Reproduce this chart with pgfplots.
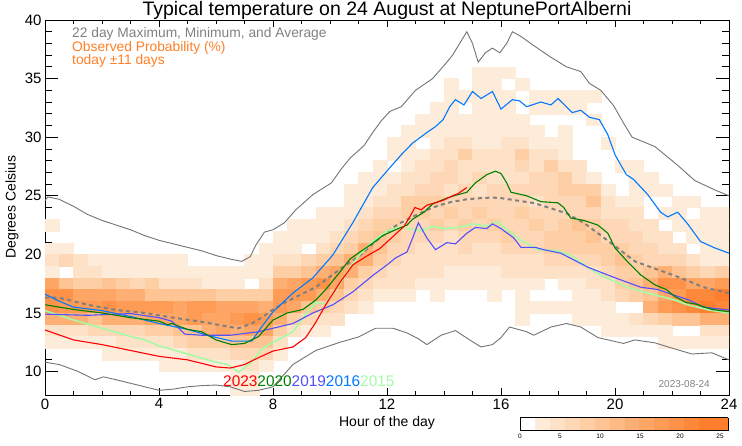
\documentclass[border=0pt]{standalone}
\usepackage{pgfplots}
\pgfplotsset{compat=1.18}
\usepackage{pgfplotstable}
\usepackage{fontspec}
\setmainfont{Liberation Sans}
\definecolor{gline}{RGB}{115,115,115}
\definecolor{lgray}{RGB}{128,128,128}
\definecolor{orangetxt}{RGB}{255,127,39}
\definecolor{c2023}{RGB}{255,0,0}
\definecolor{c2020}{RGB}{0,128,0}
\definecolor{c2019}{RGB}{80,80,255}
\definecolor{c2016}{RGB}{0,120,255}
\definecolor{c2015}{RGB}{165,250,165}

\pgfplotstableread{
y h0 h1 h2 h3 h4 h5 h6 h7 h8 h9 h10 h11 h12 h13 h14 h15 h16 h17 h18 h19 h20 h21 h22 h23 h24 h25 h26 h27 h28 h29 h30 h31 h32 h33 h34 h35 h36 h37 h38 h39 h40 h41 h42 h43 h44 h45 h46 h47
35 0 0 0 0 0 0 0 0  0 0 0 0 0 0 0 0  0 0 0 0 0 0 0 0  0 0 0 0 0 0 3 3  3 0 0 0 0 0 0 0  0 0 0 0 0 0 0 0
34 0 0 0 0 0 0 0 0  0 0 0 0 0 0 0 0  0 0 0 0 0 0 0 0  0 0 0 0 3 0 3 3  0 3 0 0 0 0 0 0  0 0 0 0 0 0 0 0
33 0 0 0 0 0 0 0 0  0 0 0 0 0 0 0 0  0 0 0 0 0 0 0 0  0 0 0 0 3 3 3 3  3 0 3 3 3 3 3 0  0 0 0 0 0 0 0 0
32 0 0 0 0 0 0 0 0  0 0 0 0 0 0 0 0  0 0 0 0 0 0 0 0  0 0 0 3 3 0 3 3  3 0 3 3 3 3 0 0  0 0 0 0 0 0 0 0
31 0 0 0 0 0 0 0 0  0 0 0 0 0 0 0 0  0 0 0 0 0 0 0 0  0 0 3 3 3 3 3 3  3 3 0 0 0 0 3 0  0 0 0 0 0 0 0 0
30 0 0 0 0 0 0 0 0  0 0 0 0 0 0 0 0  0 0 0 0 0 0 0 0  0 3 3 3 3 3 3 3  3 3 3 0 3 0 0 0  0 0 0 0 0 0 0 0
29 0 0 0 0 0 0 0 0  0 0 0 0 0 0 0 0  0 0 0 0 0 0 0 0  3 3 0 3 5 5 3 3  5 5 3 3 3 0 0 3  0 0 0 0 0 0 0 0
28 0 0 0 0 0 0 0 0  0 0 0 0 0 0 0 0  0 0 0 0 0 0 0 0  3 3 3 5 5 9 5 5  5 9 5 5 3 0 0 0  0 0 0 0 0 0 0 0
27 0 0 0 0 0 0 0 0  0 0 0 0 0 0 0 0  0 0 0 0 0 0 0 3  0 3 5 5 7 5 5 5  5 7 5 9 5 5 0 0  3 3 0 0 0 0 0 0
26 0 0 0 0 0 0 0 0  0 0 0 0 0 0 0 0  0 0 0 0 0 0 3 3  3 5 5 7 7 5 7 5  5 5 7 7 9 5 3 0  0 3 3 0 0 0 0 0
25 0 0 0 0 0 0 0 0  0 0 0 0 0 0 0 0  0 0 0 0 0 3 3 3  5 5 7 7 5 7 5 7  7 7 7 7 9 9 9 3  0 3 3 3 0 0 0 0
24 0 0 0 0 0 0 0 0  0 0 0 0 0 0 0 0  0 0 0 0 0 3 3 5  5 9 9 9 7 7 7 7  7 7 5 7 7 7 11 5  3 3 0 0 3 3 0 0
23 0 0 0 0 0 0 0 0  0 0 0 0 0 0 0 0  0 0 0 3 3 3 5 7  7 9 9 7 9 7 9 7  7 9 7 7 7 7 7 5  5 5 0 3 3 0 3 3
22 3 0 0 0 0 0 0 0  0 0 0 0 0 0 0 0  0 3 3 3 3 5 7 9  9 7 7 9 7 9 7 9  7 7 9 7 9 11 9 7  7 5 5 0 3 3 3 3
21 0 0 0 0 0 0 0 0  0 0 0 0 0 0 0 0  3 3 3 3 5 7 9 11  9 7 7 7 5 7 7 7  9 7 7 9 9 9 11 7  7 7 5 5 0 3 3 3
20 3 3 0 0 0 0 0 0  0 0 0 0 0 0 0 3  3 3 0 5 7 9 13 11  7 7 5 5 5 7 5 5  7 7 7 9 9 9 9 9  9 7 7 5 5 0 3 3
19 5 7 5 3 3 3 3 3  3 3 0 0 0 0 3 3  5 5 7 9 11 13 13 9  7 5 5 5 5 5 5 5  5 5 5 7 7 7 7 9  11 9 7 7 7 5 3 3
18 3 0 5 5 3 3 3 3  3 3 3 3 3 3 3 3  9 9 11 13 15 13 9 7  5 5 5 5 3 3 3 3  5 5 5 5 5 5 5 7  9 9 11 13 11 9 7 9
17 15 11 9 9 11 9 7 9  5 5 5 3 3 3 0 5  13 15 17 19 15 9 7 5  5 5 3 3 3 3 3 3  3 3 3 0 3 3 5 5  9 11 13 19 19 15 15 17
16 19 19 15 15 15 13 13 11  11 11 11 11 9 9 9 9  17 17 17 13 11 7 5 3  3 3 0 3 0 0 0 3  0 3 0 0 0 3 3 5  7 9 11 15 17 21 21 23
15 19 17 17 17 19 17 17 17  17 15 17 17 15 15 15 13  17 15 11 9 7 5 3 0  0 0 0 0 0 0 0 0  0 3 3 3 3 3 3 3  0 0 13 17 19 21 23 21
14 13 13 13 11 13 13 13 15  15 15 17 15 15 17 19 17  13 9 7 5 5 0 0 0  0 0 0 0 0 0 0 0  0 3 0 0 0 3 3 3  3 5 7 9 11 11 13 13
13 5 5 5 7 7 7 7 9  9 11 11 13 15 13 15 15  9 5 3 3 0 0 0 0  0 0 0 0 0 0 0 0  0 0 0 0 0 0 0 3  3 3 3 3 0 0 5 5
12 3 3 3 3 3 5 5 5  5 7 9 9 9 11 11 11  5 0 0 0 0 0 0 0  0 0 0 0 0 0 0 0  0 0 0 0 0 0 0 0  0 0 0 3 3 3 3 3
11 0 0 0 0 3 3 3 3  3 3 5 5 5 7 7 7  3 0 0 0 0 0 0 0  0 0 0 0 0 0 0 0  0 0 0 0 0 0 0 0  0 0 0 0 0 0 0 0
10 0 0 0 0 0 0 0 0  3 3 3 3 3 3 5 3  0 0 0 0 0 0 0 0  0 0 0 0 0 0 0 0  0 0 0 0 0 0 0 0  0 0 0 0 0 0 0 0
9 0 0 0 0 0 0 0 0  0 0 0 0 0 3 3 0  0 0 0 0 0 0 0 0  0 0 0 0 0 0 0 0  0 0 0 0 0 0 0 0  0 0 0 0 0 0 0 0
8 0 0 0 0 0 0 0 0  0 0 0 0 0 3 3 0  0 0 0 0 0 0 0 0  0 0 0 0 0 0 0 0  0 0 0 0 0 0 0 0  0 0 0 0 0 0 0 0
}\heat

\begin{document}
\begin{tikzpicture}
\path[use as bounding box] (-45pt,-50pt) rectangle (697pt,395pt);
\begin{axis}[
  at={(0pt,0pt)}, anchor=south west,
  scale only axis, width=684pt, height=375pt,
  xmin=0, xmax=24, ymin=8, ymax=40,
  xtick={0,4,...,24}, ytick={10,15,...,40},
  minor x tick num=3, minor y tick num=4,
  xtick pos=both, ytick pos=both, xticklabel pos=lower, yticklabel pos=left,
  tick align=inside,
  major tick length=13pt, minor tick length=7pt,
  xtick style={/pgfplots/major tick length=7pt,/pgfplots/minor tick length=4pt},
  tick label style={font=\fontsize{15}{16}\selectfont},
  /pgf/number format/assume math mode=true,
  axis line style={line width=0.8pt},
  every tick/.style={black, line width=0.8pt},
  clip marker paths=true,
  colormap={heat}{rgb255=(255,255,255) rgb255=(254,236,218) rgb255=(254,226,200) rgb255=(254,216,182) rgb255=(254,206,165) rgb255=(254,196,148) rgb255=(254,186,132) rgb255=(254,176,116) rgb255=(254,166,101) rgb255=(254,156,86) rgb255=(254,146,72) rgb255=(254,136,58) rgb255=(254,126,45) rgb255=(254,126,45)},
  colormap access=piecewise constant,
  point meta min=0, point meta max=26,
  colorbar horizontal,
  colorbar style={
    at={(parent axis.south east)}, anchor=north east, xshift=-1pt, yshift=-14pt,
    scale only axis, width=208pt, height=13pt,
    xtick={0,5,10,15,20,25},
    xticklabel style={font=\fontsize{6.5}{7}\selectfont},
    /pgf/number format/assume math mode=true,
    major tick length=0pt, minor tick length=0pt,
    axis line style={line width=0.8pt},
    xticklabel pos=lower,
  },
]
\pgfplotsinvokeforeach{0,...,47}{
  \addplot[scatter, only marks, forget plot, mark=square*, mark size=7.125pt,
    scatter/use mapped color={draw=mapped color, fill=mapped color},
    mark options={yscale=0.8224, line width=0.3pt}, point meta=explicit]
    table[x expr=#1/2+0.25, y expr={\thisrow{h#1}>0 ? \thisrow{y}+0.5 : nan}, meta=h#1] {\heat};
}
% maximum
\addplot[gline, line width=0.9pt] coordinates {(0,24.6) (0.1,24.9) (0.5,24.7) (1.0,24.1) (1.5,23.4) (2.0,22.9) (2.5,22.5) (3.0,22.1) (3.5,21.6) (4.0,21.2) (4.5,20.9) (5.0,20.6) (5.5,20.3) (6.0,19.9) (6.5,19.6) (6.9,19.4) (7.2,19.8) (7.4,20.8) (7.7,21.9) (8.0,22.1) (8.4,22.7) (8.8,23.8) (9.4,25.1) (10.05,26.1) (10.4,27.3) (10.7,28.2) (11.2,29.3) (11.5,30.4) (11.8,31.4) (12.1,32.2) (12.5,32.6) (13.0,34.0) (13.6,35.0) (14.1,36.4) (14.3,37.0) (14.5,37.8) (14.8,39.0) (15.0,38.0) (15.2,36.4) (15.45,37.2) (15.7,37.6) (15.96,37.2) (16.2,38.0) (16.4,39.0) (16.7,38.6) (17.1,37.9) (17.7,36.9) (18.3,36.0) (18.8,35.6) (19.1,34.6) (19.5,34.0) (19.95,32.7) (20.3,31.2) (20.6,30.0) (21.0,29.6) (21.4,29.2) (21.8,28.4) (22.2,27.6) (22.8,26.3) (23.5,25.5) (24,25.0)};
% minimum
\addplot[gline, line width=0.9pt] coordinates {(0,10.8) (0.5,10.6) (1.17,10.0) (1.75,9.3) (2.05,9.55) (2.5,9.3) (3.0,9.0) (3.5,8.7) (4.0,8.4) (4.5,8.5) (5.0,8.7) (5.5,8.8) (6.0,8.85) (6.5,8.7) (7.0,8.3) (7.5,8.4) (8.0,8.7) (8.7,10.6) (9.5,11.8) (10.35,12.5) (11.0,12.95) (11.6,13.7) (12.2,13.7) (12.7,13.3) (13.1,12.8) (13.4,12.3) (13.9,13.1) (14.4,13.5) (14.9,12.7) (15.3,12.1) (15.7,12.3) (16.0,12.9) (16.3,13.8) (16.9,13.4) (17.15,13.1) (17.75,13.8) (18.3,14.1) (18.8,13.8) (19.4,12.9) (20.3,12.4) (20.7,12.7) (21.4,12.45) (22.0,12.0) (22.7,11.5) (23.4,11.6) (24,11.0)};
% average
\addplot[lgray, line width=2pt, dash pattern=on 4pt off 3.5pt] coordinates {(0,16.3) (0.5,16.3) (1.0,16.0) (1.5,15.7) (2.5,15.25) (3.5,15.0) (4.5,14.6) (5.5,14.25) (6.5,13.8) (6.8,13.7) (7.25,14.1) (7.6,14.6) (8.0,15.3) (8.5,16.0) (9.0,16.6) (9.5,17.2) (10.0,18.1) (10.5,19.0) (11.05,19.9) (11.5,20.9) (12.0,21.9) (12.4,22.6) (12.9,23.2) (13.4,23.8) (13.85,24.2) (14.3,24.5) (14.8,24.7) (15.3,24.8) (15.7,24.85) (16.0,24.8) (16.55,24.6) (17.1,24.4) (17.4,24.2) (18.3,23.5) (18.9,22.7) (19.4,21.8) (19.95,20.8) (20.7,19.4) (21.5,18.7) (22.3,18.0) (23.1,17.2) (24.0,16.7)};
% 2015
\addplot[c2015, line width=1.6pt] coordinates {(0,15.2) (1.0,14.4) (2.0,13.7) (3.0,13.0) (3.5,12.7) (4.0,12.2) (5.0,11.5) (5.85,10.9) (6.4,10.6) (6.8,9.95) (7.25,10.8) (7.6,11.9) (8.0,12.5) (8.7,13.4) (9.15,14.9) (9.5,15.9) (9.85,15.75) (10.35,17.5) (10.7,18.85) (11.05,20.0) (11.5,21.1) (12.0,22.0) (12.4,22.3) (12.8,22.2) (13.2,22.0) (13.6,22.4) (14.0,22.2) (14.5,22.3) (15.0,22.6) (15.5,22.4) (15.9,22.8) (16.0,22.5) (16.7,21.2) (17.3,20.4) (18.0,20.3) (18.45,19.9) (19.05,18.9) (19.5,18.2) (20.45,17.2) (21.15,16.7) (22.1,16.1) (22.55,15.7) (23.3,15.25) (24.0,15.0)};
% 2016
\addplot[c2016, line width=1.1pt] coordinates {(0,16.6) (0.5,16.0) (1.0,15.5) (2.0,15.2) (3.0,14.7) (4.0,14.1) (5.0,13.6) (5.85,13.0) (6.55,12.6) (7.25,12.6) (7.6,13.8) (8.0,15.1) (8.7,16.7) (9.4,18.0) (10.1,19.95) (10.8,22.7) (11.5,25.7) (12.1,27.4) (12.5,28.5) (12.9,29.5) (13.4,30.4) (13.7,30.9) (13.97,31.5) (14.2,32.6) (14.4,33.2) (14.7,32.75) (15.0,33.9) (15.3,33.3) (15.7,33.9) (16.0,32.4) (16.4,33.2) (16.65,33.1) (16.9,32.6) (17.4,33.0) (17.75,32.75) (18.0,33.3) (18.5,32.1) (18.8,32.3) (19.1,31.7) (19.45,31.5) (19.75,30.2) (20.0,28.5) (20.4,26.8) (20.65,26.4) (21.15,25.1) (21.6,23.6) (21.85,23.2) (22.2,23.6) (22.55,22.6) (23.0,21.1) (23.5,20.55) (24,20.1)};
% 2019
\addplot[c2019, line width=1.1pt] coordinates {(0,14.9) (1.5,14.8) (3.0,14.95) (4.0,14.6) (4.45,14.3) (4.9,13.2) (5.5,13.1) (6.5,13.1) (7.5,13.4) (8.0,13.7) (8.7,14.1) (9.4,15.0) (10.1,15.7) (10.8,16.8) (11.15,17.5) (11.5,18.2) (12.0,19.1) (12.3,19.7) (12.7,20.2) (12.9,21.4) (13.1,22.7) (13.4,21.4) (13.7,20.4) (14.1,21.0) (14.4,20.9) (14.8,21.8) (15.1,22.3) (15.5,22.2) (15.7,22.6) (16.0,22.2) (16.45,21.4) (16.7,20.6) (17.2,20.6) (17.5,20.4) (18.1,20.1) (19.05,18.9) (19.95,18.05) (20.9,17.2) (21.5,17.0) (22.1,16.5) (22.6,16.1) (23.1,15.5) (24.0,15.25)};
% 2020
\addplot[c2020, line width=1.1pt] coordinates {(0,15.7) (1.0,15.3) (2.0,15.0) (3.0,14.6) (4.0,14.3) (4.3,14.0) (4.45,14.1) (5.0,13.6) (5.5,13.4) (6.0,12.7) (6.55,12.3) (7.0,12.4) (7.5,13.0) (8.0,14.4) (8.5,15.0) (9.05,15.3) (9.5,16.1) (9.85,17.0) (10.35,18.5) (10.7,19.6) (11.05,20.2) (11.5,20.95) (11.85,21.6) (12.3,22.1) (12.7,22.5) (12.9,23.0) (13.3,23.6) (13.6,24.3) (14.1,24.8) (14.35,25.0) (14.8,25.3) (15.1,26.1) (15.5,26.8) (15.8,27.1) (16.0,26.9) (16.2,26.1) (16.35,25.3) (16.9,25.0) (17.4,24.5) (18.0,24.4) (18.2,24.0) (18.45,23.1) (18.9,22.9) (19.4,22.5) (19.75,21.8) (20.0,20.55) (20.45,19.35) (20.9,18.25) (21.4,17.4) (21.8,17.0) (22.1,16.4) (22.5,15.9) (22.85,15.75) (23.4,15.3) (24.0,15.1)};
% 2023
\addplot[c2023, line width=1.1pt] coordinates {(0,13.55) (1.0,12.7) (2.0,12.3) (3.0,11.8) (4.0,11.3) (5.0,11.0) (6.0,10.4) (6.5,10.3) (7.0,10.6) (7.5,11.2) (8.0,11.75) (8.7,12.1) (9.15,12.9) (9.5,14.2) (9.85,15.7) (10.35,17.6) (10.8,19.1) (11.25,19.8) (11.75,20.5) (12.2,21.5) (12.6,22.4) (12.8,23.2) (12.98,24.0) (13.2,23.8) (13.4,24.2) (13.96,24.6) (14.3,25.0) (14.5,25.2) (14.8,25.7)};
\end{axis}
\node[anchor=base, font=\fontsize{19.5}{22}\selectfont] at (342pt,379pt) {Typical temperature on 24 August at NeptunePortAlberni};
\node[anchor=base west, inner sep=0pt, font=\fontsize{13.8}{14}\selectfont, text=lgray] at (27pt,357pt) {22 day Maximum, Minimum, and Average};
\node[anchor=base west, inner sep=0pt, font=\fontsize{13.8}{14}\selectfont, text=orangetxt] at (27pt,343pt) {Observed Probability (\%)};
\node[anchor=base west, inner sep=0pt, font=\fontsize{13.8}{14}\selectfont, text=orangetxt] at (27pt,330pt) {today ±11 days};
\node[anchor=base west, inner sep=0pt, font=\fontsize{15.4}{16}\selectfont] at (178pt,9pt) {\textcolor{c2023}{2023}\textcolor{c2020}{2020}\textcolor{c2019}{2019}\textcolor{c2016}{2016}\textcolor{c2015}{2015}};
\node[anchor=base east, inner sep=0pt, font=\fontsize{10}{10}\selectfont, text=lgray] at (665pt,8pt) {2023-08-24};
\node[anchor=base, font=\fontsize{14}{14}\selectfont] at (342pt,-31pt) {Hour of the day};
\node[rotate=90, anchor=center, font=\fontsize{14}{14}\selectfont] at (-33pt,188pt) {Degrees Celsius};
\end{tikzpicture}
\end{document}
